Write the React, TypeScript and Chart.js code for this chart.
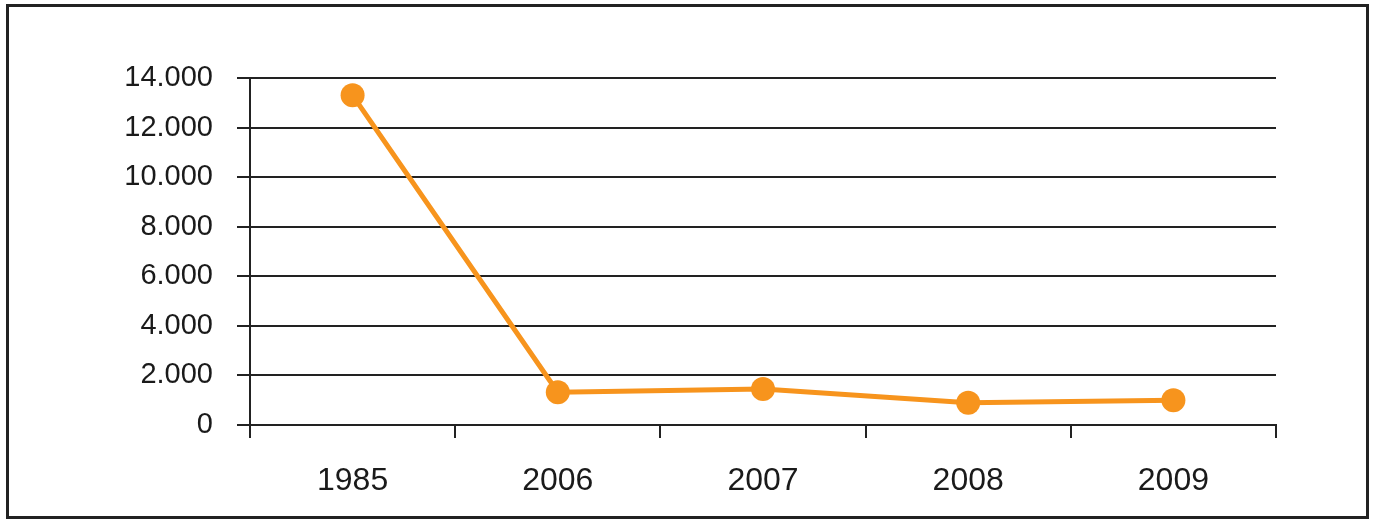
import React, { useEffect, useRef } from "react";
import { Chart, registerables } from "chart.js";

Chart.register(...registerables);

const categories = ["1985", "2006", "2007", "2008", "2009"];
const values = [13300, 1320, 1450, 900, 1000];
const yTicks = [0, 2000, 4000, 6000, 8000, 10000, 12000, 14000];

const fmt = (v: number) => {
  const s = String(Math.round(v));
  return s.replace(/\B(?=(\d{3})+(?!\d))/g, ".");
};

const framePlugin = {
  id: "frame",
  afterDraw(chart: any) {
    const ctx = chart.ctx;
    ctx.save();
    ctx.strokeStyle = "#222";
    ctx.lineWidth = 3;
    ctx.strokeRect(7.5, 5.5, 1360, 512);
    ctx.restore();
  },
};

export default function App() {
  const ref = useRef<HTMLCanvasElement | null>(null);
  useEffect(() => {
    if (!ref.current) return;
    const chart = new Chart(ref.current, {
      type: "line",
      data: {
        labels: categories,
        datasets: [
          {
            data: values,
            borderColor: "#F7941D",
            backgroundColor: "#F7941D",
            borderWidth: 5,
            pointRadius: 12,
            pointHoverRadius: 12,
            pointBackgroundColor: "#F7941D",
            pointBorderWidth: 0,
            tension: 0,
          },
        ],
      },
      options: {
        responsive: false,
        animation: false,
        events: [],
        layout: { padding: { left: 0, right: 101, top: 78, bottom: 0 } },
        plugins: { legend: { display: false }, tooltip: { enabled: false } },
        scales: {
          x: {
            offset: true,
            grid: {
              offset: true,
              drawOnChartArea: false,
              drawTicks: true,
              tickLength: 13,
              color: "#222",
              lineWidth: 2,
            },
            border: { display: true, color: "#222", width: 2 },
            ticks: {
              color: "#1a1a1a",
              padding: 24,
              font: { family: "'Liberation Sans', Arial, sans-serif", size: 32 },
              maxRotation: 0,
            },
            afterFit: (s: any) => {
              s.height = 95;
            },
          },
          y: {
            min: 0,
            max: 14000,
            afterBuildTicks: (s: any) => {
              s.ticks = yTicks.map((v) => ({ value: v }));
            },
            grid: {
              color: "#222",
              lineWidth: 2,
              tickLength: 13,
            },
            border: { display: true, color: "#222", width: 2 },
            ticks: {
              color: "#1a1a1a",
              padding: 24,
              callback: (v: any) => fmt(Number(v)),
              font: { family: "'Liberation Sans', Arial, sans-serif", size: 29 },
            },
            afterFit: (s: any) => {
              s.width = 250;
            },
          },
        },
      },
      plugins: [framePlugin],
    });
    return () => chart.destroy();
  }, []);
  return (
    <div style={{ position: "absolute", left: 0, top: 0, width: 1377, height: 520, background: "#fff" }}>
      <canvas ref={ref} width={1377} height={520} style={{ display: "block" }} />
    </div>
  );
}
